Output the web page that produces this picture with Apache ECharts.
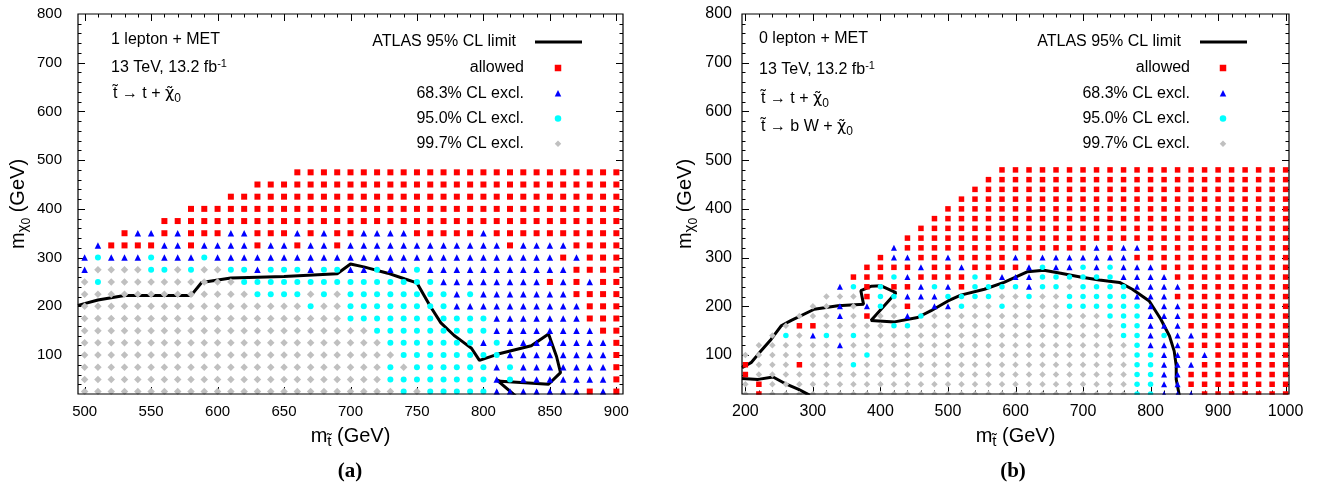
<!DOCTYPE html>
<html>
<head>
<meta charset="utf-8">
<title>Stop / neutralino exclusion</title>
<script src="https://cdn.jsdelivr.net/npm/echarts@6.0.0/dist/echarts.min.js"></script>
<style>
html,body{margin:0;padding:0;background:#ffffff;}
#chart{width:1318px;height:490px;}
</style>
</head>
<body>
<div id="chart"></div>
<script>
// ---------- panel (a): 1 lepton + MET ----------
const stopMassA = [500,510,520,530,540,550,560,570,580,590,600,610,620,630,640,650,660,670,680,690,700,710,720,730,740,750,760,770,780,790,800,810,820,830,840,850,860,870,880,890,900];
const lspMassA = [475,450,425,400,375,350,325,300,275,250,225,200,175,150,125,100,75,50,25];
// R = allowed, B = 68.3% excl., C = 95.0% excl., G = 99.7% excl., . = no point
const rowsA = [
  "..... ..... ..... .RRRR RRRRR RRRRR RRRRR RRRRR R",
  "..... ..... ...RR RRRRR RRRRR RRRRR RRRRR RRRRR R",
  "..... ..... .RRRR RRRRR RRRRR RRRRR RRRRR RRRRR R",
  "..... ...RR RRRRR RRRRR RRRRR RRRRR RRRRR RRRRR R",
  "..... .RRRR RRRRR RRRRR RRRRR RRRRR RRRRR RRRRR R",
  "...RB BRBRR RBBRR RBRBR RBBBB RRRRR BRRRR RRRRR R",
  ".BRRR RBBRB BBBRB BRBBR BBBBB BBBBB BBRBB BBRRR R",
  "BCBBB CBBBC BBBBB BBBBB BBBBB BBBBB BBBBB BRBRR R",
  "BGGGG CCGCG GCCBC CCBCC BBCBB CBBBB BBBBB BBRRR R",
  "GCGGG GGGGG GGCCC CCCCC CCCCC CCBBB BBBBB RBRBR R",
  "GGGGG GGGGG GGGCC CCGCG CCCCC CCCBC BBBBB BBRRR R",
  "GGGGG GGGGG GGGGG GGCGG CCCCC CCCBB BBBBB BBBRR R",
  "GGGGG GGGGG GGGGG GGGGG CCCCC CCCCC CBBBB BBBRR R",
  "GGGGG GGGGG GGGGG GGGGG GGCCC CCCCC CBBBB BBBBR R",
  "GGGGG GGGGG GGGGG GGGGG GGGCC CCCCC BCBBB BBBBB R",
  "GGGGG GGGGG GGGGG GGGGG GGGGC CCCCC CCBBB BBBBB R",
  "GGGGG GGGGG GGGGG GGGGG GGGCG CCCCC CBCBB BBBBB R",
  "GGGGG GGGGG GGGGG GGGGG GGGCC CCCCC CBCBB BBBBB R",
  "GGGGG GGGGG GGGGG GGGGG GGGGC GCCCC CBBBB BBBRB R"
];
const limitA = [[495,202],[510,213],[530,222],[580,222],[588,249],[610,258],[650,261],[690,267],[700,287],[710,281],[728,268],[741,256],[750,248],[760,200],[768,166],[778,140],[784,128],[791,114],[797,89],[811,102],[836,119],[849,143],[855,97],[858,64],[849,40],[813,46],[810,49],[825,14]];
const xTickLabelsA = [500,550,600,650,700,750,800,850,900];

// ---------- panel (b): 0 lepton + MET ----------
const stopMassB = [200,220,240,260,280,300,320,340,360,380,400,420,440,460,480,500,520,540,560,580,600,620,640,660,680,700,720,740,760,780,800,820,840,860,880,900,920,940,960,980,1000];
const lspMassB = [480,460,440,420,400,380,360,340,320,300,280,260,240,220,200,180,160,140,120,100,80,60,40,20];
const rowsB = [
  "..... ..... ..... ....R RRRRR RRRRR RRRRR RRRRR R",
  "..... ..... ..... ...RR RRRRR RRRRR RRRRR RRRRR R",
  "..... ..... ..... ..RRR RRRRR RRRRR RRRRR RRRRR R",
  "..... ..... ..... .RRRR RRRRR RRRRR RRRRR RRRRR R",
  "..... ..... ..... RRRRR RRRRR RRRRR RRRRR RRRRR R",
  "..... ..... ....R RRRRR RRRRR RRRRR RRRRR RRRRR R",
  "..... ..... ...RR RRRRR RRRRR RRRRR RRRRR RRRRR R",
  "..... ..... ..RRR RRRRR RRRRR RRRRR RRRRR RRRRR R",
  "..... ..... .BRRR RRRRR RRRRR RBRBB RRRRR RRRRR R",
  "..... ..... RBBRR BRRRR BRBBB BBBBR RRRRR RRRRR R",
  "..... ....R RRRBR RBRRR RBCBB CBCBB BRRRR RRRRR R",
  "..... ...RR RCBRR RRCRB BBCCC CCCBB BBRRR RRRRR R",
  "..... ..BCR CRRBC BRCCC CBCCG CCCCB BBBRR RRRRR R",
  "..... .GGGR CCBBB CCCCG GCGGC CCCCB BBRRR RRRRR R",
  "..... GGBGB CGRGB BCGGC GGGGC CCCCC BBBRR RRRRR R",
  "....G GGBGR GGBCG GGGGG GGGGG GGCCC BBBRR RRRRR R",
  "...GR RGGGG GCCGG GGGGG GGGGG GGGCC BBBRR RRRRR R",
  "..GCG BCGCG GGGGG GGGGG GGGGG GGGCC BCBBR RRRRR R",
  ".GGGG GGBGG GGGGG GGGGG GGGGG GGGGC BBBRR RRRRR R",
  "GGGGG GGGGC GGGGG GGGGG GGGGG GGGGC CBBRB RRRRR R",
  "RGGGR GGGCG GGGGG GGGGG GGGGG GGGGC CBBBR RRRRR R",
  "RGGGG GGGGG GGGGG GGGGG GGGGG GGGGC CBBRR RRRRR R",
  "GRGGG GGGGG GGGGG GGGGG GGGGG GGGGC CBBRR RRRRR R",
  "GRGGG GGGGG GGGGG GGGGG GGGGG GGGGC CBBBR RRRRR R"
];
const limitB1 = [[195,74],[209,85],[221,105],[238,132],[253,160],[268,171],[302,194],[337,201],[375,204],[371,232],[386,241],[401,242],[423,228],[386,171],[421,168],[455,177],[475,191],[500,211],[519,223],[554,235],[583,249],[618,271],[642,274],[667,268],[696,260],[724,254],[754,249],[773,235],[798,211],[815,174],[828,139],[835,108],[838,78],[838,50],[843,14]];
const limitB2 = [[195,52],[219,50],[241,55],[258,42],[278,30],[300,14]];
const xTickLabelsB = [200,300,400,500,600,700,800,900,1000];

const yTickLabels = [100,200,300,400,500,600,700,800];

// ---------- styling ----------
const F = "'Liberation Sans', Arial, Helvetica, sans-serif";
const CLASSES = [
  {code:'R', name:'allowed',        symbol:'rect',     color:'#ff0000', sizeA:6,   sizeB:5.5},
  {code:'B', name:'68.3% CL excl.', symbol:'triangle', color:'#0000ff', sizeA:6.5, sizeB:6},
  {code:'C', name:'95.0% CL excl.', symbol:'circle',   color:'#00ffff', sizeA:6,   sizeB:5.5},
  {code:'G', name:'99.7% CL excl.', symbol:'diamond',  color:'#c0c0c0', sizeA:7.5, sizeB:6.5}
];
const LIMIT = 'ATLAS 95% CL limit';
const RANGE_A = {x:[495,905], y:[20,800]};
const RANGE_B = {x:[195,1005], y:[20,800]};

function cells(rows, xs, ys, code) {
  const out = [];
  rows.forEach(function (r, i) {
    const s = r.replace(/ /g, '');
    for (let j = 0; j < xs.length; j++) {
      if (s[j] === code) out.push([xs[j], ys[i]]);
    }
  });
  return out;
}

function tickItems(xMajor, yMajor, range) {
  const out = [];
  const sub = 5;
  const dx = xMajor[1] - xMajor[0];
  const ext = [xMajor[0] - dx].concat(xMajor).concat([xMajor[xMajor.length - 1] + dx]);
  for (let i = 0; i < ext.length - 1; i++) {
    for (let k = 0; k < sub; k++) {
      const v = ext[i] + k * (ext[i + 1] - ext[i]) / sub;
      if (v <= range.x[0] || v >= range.x[1]) continue;
      out.push([v, range.y[0] + 1, k === 0 ? 1 : 0]);
    }
  }
  const dy = yMajor[1] - yMajor[0];
  const eyt = [yMajor[0] - dy].concat(yMajor).concat([yMajor[yMajor.length - 1] + dy]);
  for (let i = 0; i < eyt.length - 1; i++) {
    for (let k = 0; k < sub; k++) {
      const v = eyt[i] + k * (eyt[i + 1] - eyt[i]) / sub;
      if (v <= range.y[0] || v >= range.y[1]) continue;
      out.push([range.x[0] + 1, v, k === 0 ? 3 : 2]);
    }
  }
  return out;
}

function tickSeries(idx, data) {
  return {
    type: 'custom', xAxisIndex: idx, yAxisIndex: idx, silent: true, z: 1, clip: false,
    encode: {x: 0, y: 1},
    data: data,
    renderItem: function (params, api) {
      const cs = params.coordSys;
      const kind = api.value(2);
      const p = api.coord([api.value(0), api.value(1)]);
      const len = (kind === 1 || kind === 3) ? 7 : 3.5;
      const st = {stroke: '#000', lineWidth: 1};
      if (kind < 2) {
        const x = Math.round(p[0]) + 0.5;
        return {type: 'group', children: [
          {type: 'line', shape: {x1: x, y1: cs.y + cs.height, x2: x, y2: cs.y + cs.height - len}, style: st},
          {type: 'line', shape: {x1: x, y1: cs.y, x2: x, y2: cs.y + len}, style: st}
        ]};
      }
      const y = Math.round(p[1]) + 0.5;
      return {type: 'group', children: [
        {type: 'line', shape: {x1: cs.x, y1: y, x2: cs.x + len, y2: y}, style: st},
        {type: 'line', shape: {x1: cs.x + cs.width, y1: y, x2: cs.x + cs.width - len, y2: y}, style: st}
      ]};
    }
  };
}

const series = [];
series.push(tickSeries(0, tickItems(xTickLabelsA, yTickLabels, RANGE_A)));
series.push(tickSeries(1, tickItems(xTickLabelsB, yTickLabels, RANGE_B)));
function limitSeries(idx, data) {
  return {
    type: 'line', name: LIMIT, xAxisIndex: idx, yAxisIndex: idx, data: data,
    symbol: 'none', showSymbol: false, z: 2, clip: true,
    lineStyle: {color: '#000', width: 3}, itemStyle: {color: '#000'}
  };
}
series.push(limitSeries(0, limitA));
series.push(limitSeries(1, limitB1));
series.push(limitSeries(1, limitB2));
CLASSES.forEach(function (c) {
  series.push({
    type: 'scatter', name: c.name, xAxisIndex: 0, yAxisIndex: 0, z: 3,
    symbol: c.symbol, symbolSize: c.sizeA, itemStyle: {color: c.color, opacity: 1},
    data: cells(rowsA, stopMassA, lspMassA, c.code)
  });
  series.push({
    type: 'scatter', name: c.name, xAxisIndex: 1, yAxisIndex: 1, z: 3,
    symbol: c.symbol, symbolSize: c.sizeB, itemStyle: {color: c.color, opacity: 1},
    data: cells(rowsB, stopMassB, lspMassB, c.code)
  });
});

const nameRich = {
  n:   {fontSize: 20, fontFamily: F, color: '#000'},
  sub: {fontSize: 15, fontFamily: F, color: '#000', padding: [10, 0, 0, 0]},
  sub2:{fontSize: 12, fontFamily: F, color: '#000', padding: [18, 0, 0, 0]}
};
const xName = '{n|m}{sub|t\u0303}{n| (GeV)}';
const yName = '{n|m}{sub|\u03c7}{sub2|0}{n| (GeV)}';
const plainNum = function (v) { return String(v); };

function xAxisDef(idx, range, labels, fs) {
  return {
    gridIndex: idx, type: 'value', min: range.x[0], max: range.x[1],
    axisLine: {show: false}, axisTick: {show: false}, splitLine: {show: false},
    axisLabel: {customValues: labels, formatter: plainNum, fontSize: fs, color: '#000', fontFamily: F, margin: 10},
    name: xName, nameLocation: 'middle', nameGap: 30,
    nameTextStyle: {rich: nameRich}
  };
}
function yAxisDef(idx, range, fs, margin, gap) {
  return {
    gridIndex: idx, type: 'value', min: range.y[0], max: range.y[1],
    axisLine: {show: false}, axisTick: {show: false}, splitLine: {show: false},
    axisLabel: {customValues: yTickLabels, formatter: plainNum, fontSize: fs, color: '#000', fontFamily: F, margin: margin},
    name: yName, nameLocation: 'middle', nameGap: gap, nameRotate: 90,
    nameTextStyle: {rich: nameRich}
  };
}

const markerNames = CLASSES.map(function (c) { return c.name; });
// legend: line sample (wide icon) + marker samples (small icons), text right-aligned
function lineLegend(iconRight) {
  return {
    data: [{name: LIMIT, icon: 'rect'}], orient: 'vertical', align: 'right',
    right: 1318 - iconRight, top: 33, padding: 0,
    itemWidth: 47, itemHeight: 3,
    textStyle: {fontSize: 16, color: '#000', fontFamily: F, lineHeight: 18, padding: [0, 14, 0, 0]}
  };
}
function markerLegend(iconCenter, textRight) {
  const w = 6.5;
  const iconLeft = iconCenter - w / 2;
  return {
    data: markerNames, orient: 'vertical', align: 'right',
    right: 1318 - (iconCenter + w / 2), top: 59, padding: 0,
    itemWidth: w, itemHeight: w, itemGap: 7.25, symbolKeepAspect: true,
    textStyle: {fontSize: 16, color: '#000', fontFamily: F, lineHeight: 18, padding: [0, iconLeft - 5 - textRight, 0, 0]}
  };
}

const annRich = {
  n:   {fontSize: 16, fontFamily: F, color: '#000'},
  x:   {fontSize: 16, fontFamily: "'DejaVu Sans', sans-serif", color: '#000'},
  sub: {fontSize: 12, fontFamily: F, color: '#000', padding: [9, 0, 0, 0]},
  sup: {fontSize: 11, fontFamily: F, color: '#000', padding: [0, 0, 9, 0]}
};
function ann(x, y, text) {
  return {type: 'text', x: x, y: y, z: 50, style: {text: text, rich: annRich, verticalAlign: 'middle', align: 'left'}};
}
const capFont = "bold 21px 'Liberation Serif', 'Times New Roman', serif";
const graphics = [
  ann(111, 40, '{n|1 lepton + MET}'),
  ann(111, 68, '{n|13 TeV, 13.2 fb}{sup|-1}'),
  ann(113, 94, '{n|t\u0303 \u2192 t + }{x|\u03c7\u0303}{sub|0}'),
  ann(759, 39, '{n|0 lepton + MET}'),
  ann(759, 70, '{n|13 TeV, 13.2 fb}{sup|-1}'),
  ann(761, 99, '{n|t\u0303 \u2192 t + }{x|\u03c7\u0303}{sub|0}'),
  ann(761, 127, '{n|t\u0303 \u2192 b W + }{x|\u03c7\u0303}{sub|0}'),
  {type: 'text', x: 350, y: 472, z: 50, style: {text: '(a)', font: capFont, fill: '#000', align: 'center', verticalAlign: 'middle'}},
  {type: 'text', x: 1013, y: 472, z: 50, style: {text: '(b)', font: capFont, fill: '#000', align: 'center', verticalAlign: 'middle'}},
  // white strips hiding marker halves that overflow below the frame (clipped as in the original)
  {type: 'rect', z: 40, shape: {x: 70, y: 394.7, width: 562, height: 6}, style: {fill: '#fff'}},
  {type: 'rect', z: 40, shape: {x: 734, y: 394.7, width: 564, height: 6}, style: {fill: '#fff'}}
];

const chart = echarts.init(document.getElementById('chart'), null, {renderer: 'canvas'});
chart.setOption({
  animation: false,
  backgroundColor: '#ffffff',
  textStyle: {fontFamily: F},
  grid: [
    {left: 78, top: 14, width: 545, height: 380, show: true, borderColor: '#000', borderWidth: 1.2, backgroundColor: 'transparent', z: 45},
    {left: 742, top: 14, width: 547, height: 380, show: true, borderColor: '#000', borderWidth: 1.2, backgroundColor: 'transparent', z: 45}
  ],
  xAxis: [xAxisDef(0, RANGE_A, xTickLabelsA, 15), xAxisDef(1, RANGE_B, xTickLabelsB, 16)],
  yAxis: [yAxisDef(0, RANGE_A, 15, 16, 45), yAxisDef(1, RANGE_B, 16, 10, 42)],
  legend: [lineLegend(582), markerLegend(558, 524), lineLegend(1247), markerLegend(1223, 1190)],
  tooltip: {show: false},
  graphic: graphics,
  series: series
});
</script>
</body>
</html>
